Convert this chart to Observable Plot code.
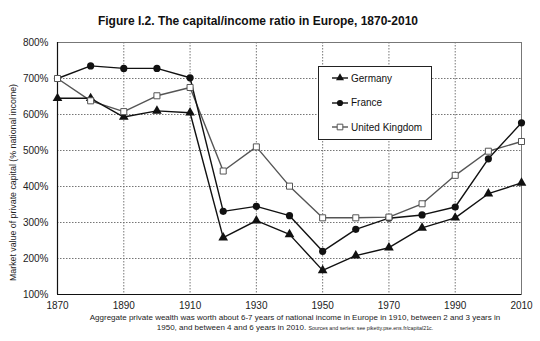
<!DOCTYPE html>
<html>
<head>
<meta charset="utf-8">
<script src="https://cdn.jsdelivr.net/npm/d3@7"></script>
<script src="https://cdn.jsdelivr.net/npm/@observablehq/plot@0.6"></script>
<style>
  html, body { margin: 0; padding: 0; background: #fff; }
  body { width: 540px; height: 341px; overflow: hidden; font-family: "Liberation Sans", Arial, sans-serif; }
  #wrap { position: relative; width: 540px; height: 341px; }
  #title { position: absolute; left: 0; width: 516px; top: 14px; text-align: center; font-weight: bold; font-size: 12px; color: #111; }
  #caption { position: absolute; left: 40px; width: 510px; top: 312.5px; text-align: center; font-size: 8px; line-height: 10px; color: #222; }
  #caption small { font-size: 5.3px; }
  #legend { position: absolute; left: 318px; top: 66px; width: 112px; height: 72px; border: 1px solid #222; background: #fff; }
  .item { position: absolute; left: 12px; height: 14px; display: flex; align-items: center; font-size: 10px; color: #111; }
  .item svg { margin-right: 2px; }
</style>
</head>
<body>
<div id="wrap">
  <div id="chart"></div>
  <div id="title">Figure I.2. The capital/income ratio in Europe, 1870-2010</div>
  <div id="legend"></div>
  <div id="caption">Aggregate private wealth was worth about 6-7 years of national income in Europe in 1910, between 2 and 3 years in<br>1950, and between 4 and 6 years in 2010. <small>Sources and series: see piketty.pse.ens.fr/capital21c.</small></div>
</div>
<script>
const years = [1870, 1880, 1890, 1900, 1910, 1920, 1930, 1940, 1950, 1960, 1970, 1980, 1990, 2000, 2010];
const germany = [645, 645, 593, 610, 605, 258, 305, 267, 167, 208, 230, 285, 313, 380, 410];
const france = [700, 735, 728, 728, 702, 331, 345, 319, 220, 281, 312, 321, 343, 477, 577];
const uk = [700, 638, 608, 652, 675, 443, 510, 401, 313, 313, 315, 352, 431, 498, 525];
const seriesNames = ["Germany", "France", "United Kingdom"];
const xTicks = [1870, 1890, 1910, 1930, 1950, 1970, 1990, 2010];
const yTicks = [100, 200, 300, 400, 500, 600, 700, 800];
const yLabel = "Market value of private capital (% national income)";

const toRows = (vals, name) => years.map((year, i) => ({year, value: vals[i], country: name}));
const de = toRows(germany, seriesNames[0]);
const fr = toRows(france, seriesNames[1]);
const gb = toRows(uk, seriesNames[2]);

const grid = {stroke: "#666", strokeDasharray: "1.5,1.5", strokeWidth: 0.9};

const chart = Plot.plot({
  width: 540,
  height: 341,
  marginLeft: 57,
  marginRight: 19,
  marginTop: 42,
  marginBottom: 47,
  style: {fontFamily: "'Liberation Sans', Arial, sans-serif", background: "#fff", color: "#222"},
  x: {domain: [1870, 2010]},
  y: {domain: [100, 800]},
  marks: [
    Plot.ruleX(xTicks.slice(1, -1), grid),
    Plot.ruleY(yTicks.slice(1, -1), grid),
    Plot.frame({stroke: "#777", strokeWidth: 1}),
    Plot.ruleX([1870], {stroke: "#111", strokeWidth: 1.2}),
    Plot.ruleY([100], {stroke: "#111", strokeWidth: 1.2}),
    Plot.axisX({ticks: xTicks, tickSize: 0, tickPadding: 7, tickFormat: d => String(d), fontSize: 10, label: null}),
    Plot.axisY({ticks: yTicks, tickSize: 0, tickPadding: 9, tickFormat: d => d + "%", fontSize: 10, label: null}),
    Plot.text([yLabel], {frameAnchor: "left", textAnchor: "middle", rotate: -90, dx: -44, dy: 14, fontSize: 8.8, fill: "#222"}),
    Plot.line(gb, {x: "year", y: "value", stroke: "#555", strokeWidth: 1.4}),
    Plot.line(de, {x: "year", y: "value", stroke: "#111", strokeWidth: 1.4}),
    Plot.line(fr, {x: "year", y: "value", stroke: "#111", strokeWidth: 1.4}),
    Plot.dot(de, {x: "year", y: "value", symbol: "triangle", r: 3.6, fill: "#111", stroke: "none"}),
    Plot.dot(fr, {x: "year", y: "value", symbol: "circle", r: 3.6, fill: "#111", stroke: "none"}),
    Plot.dot(gb, {x: "year", y: "value", symbol: "square", r: 3.4, fill: "#fff", stroke: "#555", strokeWidth: 1})
  ]
});
document.getElementById("chart").appendChild(chart);

// legend
const legend = d3.select("#legend");
const symDefs = [
  {name: seriesNames[0], stroke: "#111", sym: d3.symbolTriangle, fill: "#111", mstroke: "none", size: 28},
  {name: seriesNames[1], stroke: "#111", sym: d3.symbolCircle, fill: "#111", mstroke: "none", size: 30},
  {name: seriesNames[2], stroke: "#555", sym: d3.symbolSquare, fill: "#fff", mstroke: "#555", size: 32}
];
symDefs.forEach((s, i) => {
  const item = legend.append("div").attr("class", "item").style("top", (4 + i * 24.5) + "px");
  const svg = item.append("svg").attr("width", 18).attr("height", 14);
  svg.append("line").attr("x1", 1).attr("x2", 17).attr("y1", 7).attr("y2", 7).attr("stroke", s.stroke).attr("stroke-width", 1.4);
  svg.append("path").attr("d", d3.symbol(s.sym, s.size)()).attr("transform", "translate(9,7)")
    .attr("fill", s.fill).attr("stroke", s.mstroke);
  item.append("span").text(s.name);
});
</script>
</body>
</html>
